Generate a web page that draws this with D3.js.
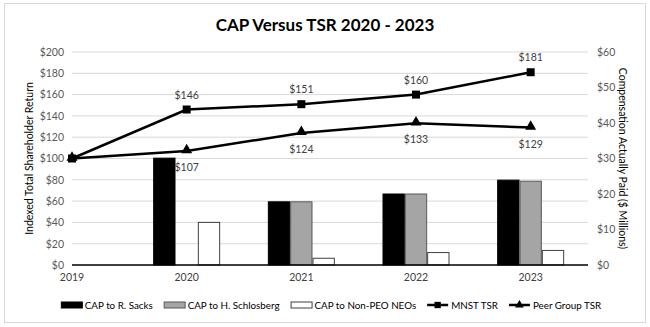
<!DOCTYPE html>
<html>
<head>
<meta charset="utf-8">
<script src="https://cdn.jsdelivr.net/npm/d3@7/dist/d3.min.js"></script>
<style>
  html, body { margin: 0; padding: 0; background: #fff; }
  svg { display: block; font-family: Lato, "Open Sans", sans-serif; }
</style>
</head>
<body>
<svg id="chart" width="650" height="327"></svg>
<script>
// Fiscal years on the category axis
const years = ["2019", "2020", "2021", "2022", "2023"];

// Compensation actually paid, $ millions (right axis)
const capSacks      = [null, 30.1, 17.8, 20.0, 23.9];
const capSchlosberg = [null, null, 17.8, 20.0, 23.6];
const capNonPEO     = [null, 12.0, 1.9, 3.5, 4.1];

// Indexed total shareholder return (left axis)
const mnstTSR = [100, 146, 151, 160, 181];
const peerTSR = [100, 107, 124, 133, 129];

const leftTicks  = [0, 20, 40, 60, 80, 100, 120, 140, 160, 180, 200];
const rightTicks = [0, 10, 20, 30, 40, 50, 60];

const barSeries = [
  { name: "CAP to R. Sacks",        values: capSacks,      fill: "#000000", stroke: "#000000" },
  { name: "CAP to H. Schlosberg",   values: capSchlosberg, fill: "#a5a5a5", stroke: "#595959" },
  { name: "CAP to Non-PEO NEOs",    values: capNonPEO,     fill: "#ffffff", stroke: "#404040" }
];

const svg = d3.select("#chart");
const W = 650, H = 327;
const plot = { left: 72, right: 588, top: 52, bottom: 265 };

// outer frame
svg.append("rect")
  .attr("x", 4.5).attr("y", 3.5).attr("width", W - 9).attr("height", H - 8)
  .attr("fill", "#fff").attr("stroke", "#d9d9d9");

// band scale whose first band is centred on the left edge of the plot
const bandW = (plot.right - plot.left) / 4.5;
const x = d3.scaleBand().domain(years)
  .range([plot.left - bandW / 2, plot.left - bandW / 2 + bandW * 5]);
const xc = d => x(d) + x.bandwidth() / 2;
const xSub = d3.scaleBand().domain(barSeries.map(s => s.name))
  .range([-33.5, 33.5]);

const yL = d3.scaleLinear().domain([0, 200]).range([plot.bottom, plot.top]);
const yR = d3.scaleLinear().domain([0, 60]).range([plot.bottom, plot.top]);

// gridlines from the left axis
svg.append("g")
  .selectAll("line").data(leftTicks.slice(1)).join("line")
  .attr("x1", plot.left).attr("x2", plot.right)
  .attr("y1", d => yL(d)).attr("y2", d => yL(d))
  .attr("stroke", "#d9d9d9").attr("stroke-width", 1);

// left axis labels
const axisL = d3.axisLeft(yL).tickValues(leftTicks).tickSize(0).tickPadding(8)
  .tickFormat(d => "$" + d);
const gL = svg.append("g").attr("transform", `translate(${plot.left},0)`).call(axisL);
gL.select(".domain").remove();
gL.selectAll("text").attr("fill", "#595959").style("font-size", "10.5px")
  .style("font-family", "Lato, sans-serif");

// right axis labels
const axisR = d3.axisRight(yR).tickValues(rightTicks).tickSize(0).tickPadding(9)
  .tickFormat(d => "$" + d);
const gR = svg.append("g").attr("transform", `translate(${plot.right},0)`).call(axisR);
gR.select(".domain").remove();
gR.selectAll("text").attr("fill", "#595959").style("font-size", "10.5px")
  .style("font-family", "Lato, sans-serif");

// bars
const barG = svg.append("g");
barSeries.forEach(s => {
  barG.append("g").selectAll("rect")
    .data(years.map((yr, i) => ({ yr, v: s.values[i] })).filter(d => d.v != null))
    .join("rect")
    .attr("x", d => xc(d.yr) + xSub(s.name) + 0.5)
    .attr("width", xSub.bandwidth() - 1)
    .attr("y", d => yR(d.v))
    .attr("height", d => yR(0) - yR(d.v))
    .attr("fill", s.fill).attr("stroke", s.stroke).attr("stroke-width", 1);
});

// category axis
const axisB = d3.axisBottom(x).tickSize(0).tickPadding(9);
const gB = svg.append("g").attr("transform", `translate(0,${plot.bottom})`).call(axisB);
gB.select(".domain").remove();
gB.selectAll("text").attr("fill", "#404040").style("font-size", "10.5px")
  .style("font-family", "Lato, sans-serif");
svg.append("line")
  .attr("x1", plot.left).attr("x2", plot.right)
  .attr("y1", plot.bottom).attr("y2", plot.bottom)
  .attr("stroke", "#000").attr("stroke-width", 1.3);

// TSR lines
const line = d3.line().x((d, i) => xc(years[i])).y(d => yL(d));
const lineG = svg.append("g");
lineG.append("path").datum(mnstTSR).attr("d", line)
  .attr("fill", "none").attr("stroke", "#000").attr("stroke-width", 2.5);
lineG.append("path").datum(peerTSR).attr("d", line)
  .attr("fill", "none").attr("stroke", "#000").attr("stroke-width", 2.5);

const sq = d3.symbol().type(d3.symbolSquare).size(64);
const tri = d3.symbol().type(d3.symbolTriangle).size(52);
lineG.selectAll(".m").data(mnstTSR).join("path")
  .attr("transform", (d, i) => `translate(${xc(years[i])},${yL(d)})`)
  .attr("d", sq).attr("fill", "#000");
lineG.selectAll(".p").data(peerTSR).join("path")
  .attr("transform", (d, i) => `translate(${xc(years[i])},${yL(d) - 1})`)
  .attr("d", tri).attr("fill", "#000");

// data labels (2019 base year is not labelled)
const lblG = svg.append("g").style("font-size", "10.5px").attr("fill", "#404040")
  .attr("text-anchor", "middle");
mnstTSR.forEach((v, i) => {
  if (i === 0) return;
  lblG.append("text").attr("x", xc(years[i])).attr("y", yL(v) - 11).text("$" + v);
});
peerTSR.forEach((v, i) => {
  if (i === 0) return;
  lblG.append("text").attr("x", xc(years[i])).attr("y", yL(v) + 20).text("$" + v);
});

// title
svg.append("text").attr("x", 325).attr("y", 31).attr("text-anchor", "middle")
  .style("font-size", "17px").style("font-weight", "bold").attr("fill", "#000")
  .text("CAP Versus TSR 2020 - 2023");

// axis titles
svg.append("text")
  .attr("transform", `translate(33,${(plot.top + plot.bottom) / 2}) rotate(-90)`)
  .attr("text-anchor", "middle").style("font-size", "10.5px").attr("fill", "#000")
  .text("Indexed Total Shareholder Return");
svg.append("text")
  .attr("transform", `translate(619,${(plot.top + plot.bottom) / 2}) rotate(90)`)
  .attr("text-anchor", "middle").style("font-size", "10.5px").attr("fill", "#000")
  .text("Compensation Actually Paid ($ Millions)");

// legend: items laid out in a row, centred under the plot
const legendItems = [
  { name: barSeries[0].name, kind: "bar", s: barSeries[0] },
  { name: barSeries[1].name, kind: "bar", s: barSeries[1] },
  { name: barSeries[2].name, kind: "bar", s: barSeries[2] },
  { name: "MNST TSR",        kind: "line", sym: sq },
  { name: "Peer Group TSR",  kind: "line", sym: tri }
];
const legY = 305, swW = 21, swGap = 3, itemGap = 11;
const lg = svg.append("g").style("font-size", "9.8px");
let cursor = 0;
legendItems.forEach(it => {
  const g = lg.append("g").attr("transform", `translate(${cursor},${legY})`);
  if (it.kind === "bar") {
    g.append("rect").attr("x", 0.5).attr("y", -3).attr("width", swW).attr("height", 6)
      .attr("fill", it.s.fill).attr("stroke", it.s.stroke);
  } else {
    g.append("line").attr("x1", 0).attr("x2", swW).attr("y1", 0).attr("y2", 0)
      .attr("stroke", "#000").attr("stroke-width", 2.5);
    g.append("path").attr("transform", `translate(${swW / 2},0)`)
      .attr("d", it.sym.size(it.sym === sq ? 40 : 34)()).attr("fill", "#000");
  }
  const t = g.append("text").attr("x", swW + swGap).attr("y", 3.5).attr("fill", "#000").text(it.name);
  cursor += swW + swGap + t.node().getComputedTextLength() + itemGap;
});
const legendWidth = cursor - itemGap;
lg.attr("transform", `translate(${331 - legendWidth / 2},0)`);
</script>
</body>
</html>
